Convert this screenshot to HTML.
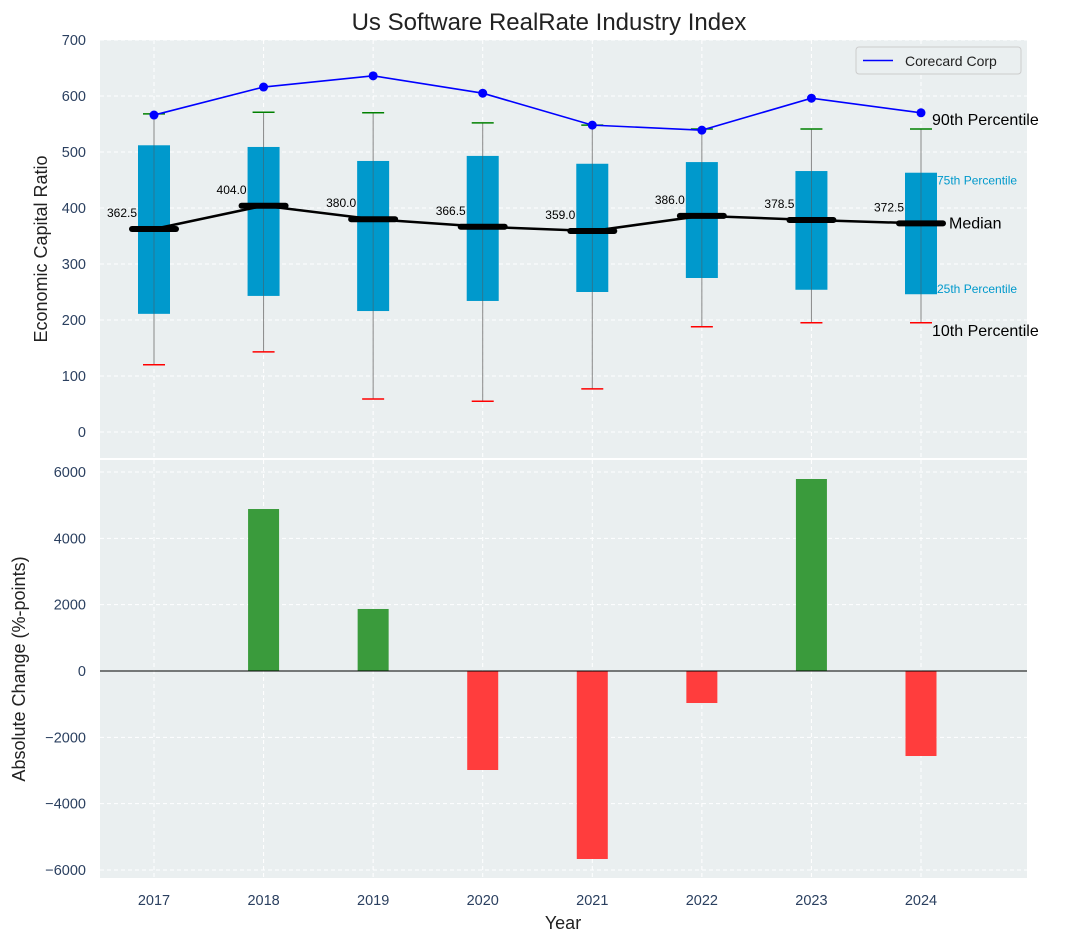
<!DOCTYPE html>
<html><head><meta charset="utf-8"><style>
body{margin:0;background:#fff;}
svg{font-family:"Liberation Sans","DejaVu Sans",sans-serif;}
</style></head><body>
<svg id="c" width="1067" height="942" xmlns="http://www.w3.org/2000/svg"></svg>
<script>
const years=[2017,2018,2019,2020,2021,2022,2023,2024];
const p10=[120,143,59,55,77,188,195,195];
const p25=[211,243,216,234,250,275,254,246];
const median=[362.5,404.0,380.0,366.5,359.0,386.0,378.5,372.5];
const p75=[512,509,484,493,479,482,466,463];
const p90=[568,571,570,552,548,541,541,541];
const corecard=[566,616,636,605,548,539,596,570];
const changes=[0,4884,1870,-2985,-5668,-965,5789,-2563];
const topTicks=[0,100,200,300,400,500,600,700];
const botTicks=[-6000,-4000,-2000,0,2000,4000,6000];

const NS='http://www.w3.org/2000/svg';
const svg=document.getElementById('c');
function el(t,a,p){const e=document.createElementNS(NS,t);for(const k in a)e.setAttribute(k,a[k]);(p||svg).appendChild(e);return e;}
const L=100,R=1027;
const x=y=>154+(y-2017)*(921-154)/7;
const yT=v=>432-v*0.56;
const yB=v=>671-v*199/6000;
const tickCol='#2a3f5f';

let e=el('rect',{x:L,y:40,width:R-L,height:418,fill:'#eaeff0'});

e=el('rect',{x:L,y:460,width:R-L,height:418,fill:'#eaeff0'});


topTicks.forEach(v=>{el('line',{x1:L,x2:R,y1:yT(v),y2:yT(v),stroke:'#fff','stroke-dasharray':'4,3','stroke-width':1});
 const t=el('text',{x:L-14,y:yT(v)+5,'text-anchor':'end','font-size':14.5,fill:tickCol});t.textContent=v;
 });
botTicks.forEach(v=>{el('line',{x1:L,x2:R,y1:yB(v),y2:yB(v),stroke:'#fff','stroke-dasharray':'4,3','stroke-width':1});
 const t=el('text',{x:L-14,y:yB(v)+5,'text-anchor':'end','font-size':14.5,fill:tickCol});t.textContent=(v<0?'\u2212'+(-v):v);
 });
years.forEach(yr=>{
 el('line',{x1:x(yr),x2:x(yr),y1:40,y2:458,stroke:'#fff','stroke-dasharray':'4,3'});
 el('line',{x1:x(yr),x2:x(yr),y1:460,y2:878,stroke:'#fff','stroke-dasharray':'4,3'});
 const t=el('text',{x:x(yr),y:905,'text-anchor':'middle','font-size':14.5,fill:tickCol});t.textContent=yr;
 
});

years.forEach((yr,i)=>{
 const cx=x(yr);
 let w=el('line',{x1:cx,x2:cx,y1:yT(p10[i]),y2:yT(p90[i]),stroke:'#888','stroke-width':1});
 
 let b=el('rect',{x:cx-16,y:yT(p75[i]),width:32,height:yT(p25[i])-yT(p75[i]),fill:'#0099cc'});
 
 el('line',{x1:cx,x2:cx,y1:yT(p75[i]),y2:yT(p25[i]),stroke:'#555','stroke-width':0.8,opacity:0.6});
 el('line',{x1:cx-11,x2:cx+11,y1:yT(p10[i]),y2:yT(p10[i]),stroke:'red','stroke-width':1.5});
 el('line',{x1:cx-11,x2:cx+11,y1:yT(p90[i]),y2:yT(p90[i]),stroke:'green','stroke-width':1.5});
 let m=el('line',{x1:cx-22,x2:cx+22,y1:yT(median[i]),y2:yT(median[i]),stroke:'#000','stroke-width':6,'stroke-linecap':'round'});
 
 let t=el('text',{x:cx-32,y:yT(median[i])-12,'text-anchor':'middle','font-size':12,fill:'#000'});t.textContent=median[i].toFixed(1);
 
});
let ml=el('polyline',{points:years.map((yr,i)=>x(yr)+','+yT(median[i])).join(' '),fill:'none',stroke:'#000','stroke-width':2.5});

let cl=el('polyline',{points:years.map((yr,i)=>x(yr)+','+yT(corecard[i])).join(' '),fill:'none',stroke:'blue','stroke-width':1.6});

years.forEach((yr,i)=>{const c=el('circle',{cx:x(yr),cy:yT(corecard[i]),r:4.5,fill:'blue'});
 });

const li=7, bx=x(2024);
[['90th Percentile',yT(p90[li])-9,bx+11,16,'#000'],['75th Percentile',yT(p75[li])+7,bx+16,12,'#0099cc'],['Median',yT(median[li]),bx+28,16,'#000'],['25th Percentile',yT(p25[li])-6,bx+16,12,'#0099cc'],['10th Percentile',yT(p10[li])+8,bx+11,16,'#000']].forEach(a=>{
 const t=el('text',{x:a[2],y:a[1]+5,'font-size':a[3],fill:a[4]});t.textContent=a[0];
 });

let lg=el('g',{});
el('rect',{x:856,y:47,width:165,height:27,fill:'#eaeff0',stroke:'#ccc',rx:3},lg);
el('line',{x1:863,x2:893,y1:60.5,y2:60.5,stroke:'blue','stroke-width':1.6},lg);
let lt=el('text',{x:905,y:66,'font-size':14,fill:'#222'},lg);lt.textContent='Corecard Corp';

years.forEach((yr,i)=>{const v=changes[i];if(!v)return;
 const r=el('rect',{x:x(yr)-15.5,y:Math.min(yB(v),yB(0)),width:31,height:Math.abs(yB(v)-yB(0)),fill:v>0?'#3a9b3c':'#ff3d3d'});
 });
el('line',{x1:L,x2:R,y1:yB(0),y2:yB(0),stroke:'#000','stroke-width':1});

let t=el('text',{x:549,y:30,'text-anchor':'middle','font-size':24,fill:'#222'});t.textContent='Us Software RealRate Industry Index';

t=el('text',{x:0,y:0,'text-anchor':'middle','font-size':18,fill:'#222',transform:'translate(47,249) rotate(-90)'});t.textContent='Economic Capital Ratio';

t=el('text',{x:0,y:0,'text-anchor':'middle','font-size':18,fill:'#222',transform:'translate(25,669) rotate(-90)'});t.textContent='Absolute Change (%-points)';

t=el('text',{x:563,y:929,'text-anchor':'middle','font-size':18,fill:'#222'});t.textContent='Year';

</script>
</body></html>
